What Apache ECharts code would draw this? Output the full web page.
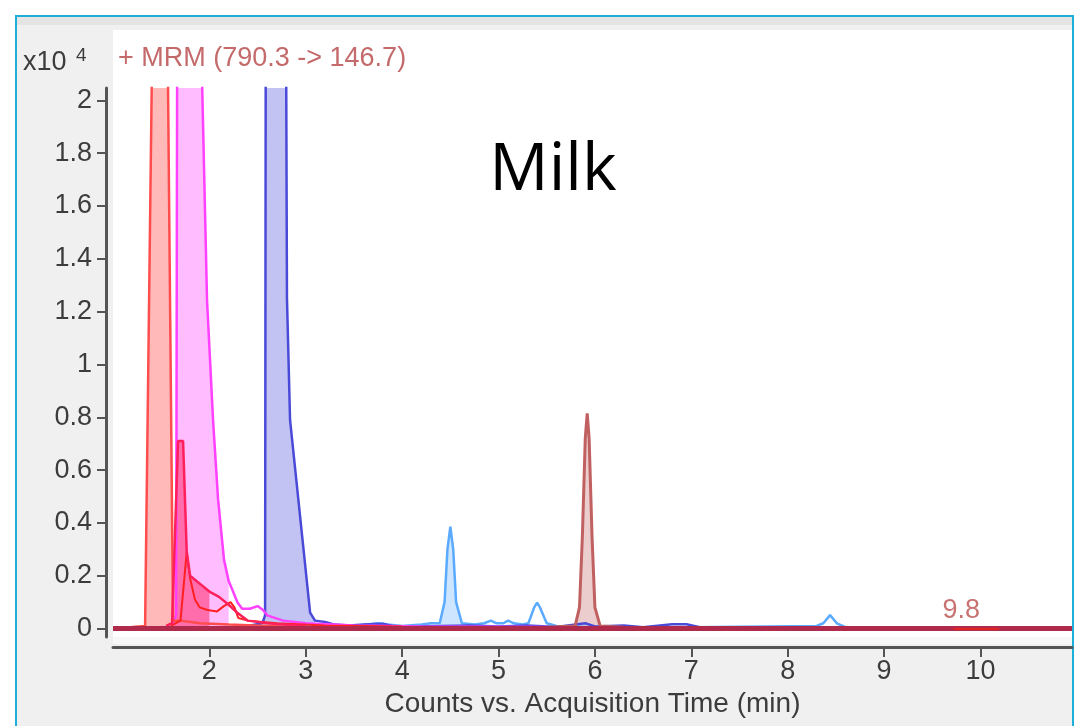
<!DOCTYPE html>
<html>
<head>
<meta charset="utf-8">
<script src="https://cdn.jsdelivr.net/npm/echarts@6/dist/echarts.min.js"></script>
<style>
html, body { margin: 0; padding: 0; background: #fff; }
#chart { width: 1087px; height: 726px; }
</style>
</head>
<body>
<div id="chart"></div>
<script>
// tick labels
const xTicks = [2, 3, 4, 5, 6, 7, 8, 9, 10];
const yTicks = [0, 0.2, 0.4, 0.6, 0.8, 1, 1.2, 1.4, 1.6, 1.8, 2];

// traces (time in min, counts x10^4)
const salmonT = [1.0, 1.2, 1.333, 1.41, 1.43, 1.48, 1.54, 1.562, 1.623, 1.7, 1.9, 2.2, 2.6, 3.0];
const salmonV = [0.005, 0.006, 0.01, 2.3, 7, 9.5, 7, 2.4, 0.03, 0.03, 0.02, 0.015, 0.01, 0.005];
const salmonFill = [1.3, 1.65];

const crimsonT = [1.55, 1.613, 1.675, 1.727, 1.765, 1.8, 1.9, 2.0, 2.1, 2.2, 2.29, 2.4, 2.6, 3.0];
const crimsonV = [0.01, 0.02, 0.71, 0.71, 0.29, 0.2, 0.17, 0.14, 0.12, 0.09, 0.06, 0.03, 0.02, 0.01];
const crimsonFill = [1.6, 2.0];

const redT = [1.6, 1.7, 1.765, 1.8, 1.85, 1.9, 1.98, 2.08, 2.15, 2.22, 2.26, 2.3, 2.4, 2.7, 3.2, 4.0];
const redV = [0.01, 0.03, 0.29, 0.19, 0.11, 0.08, 0.07, 0.065, 0.085, 0.1, 0.08, 0.04, 0.03, 0.02, 0.012, 0.008];

const magentaT = [1.62, 1.655, 1.675, 1.75, 1.85, 1.88, 1.91, 1.976, 2.038, 2.09, 2.152, 2.2, 2.235, 2.29, 2.34, 2.42, 2.5, 2.557, 2.6, 2.765, 3.0, 3.5, 4.2, 5.5, 7.0];
const magentaV = [0.02, 0.05, 4.0, 7.5, 6.0, 5.0, 2.3, 1.24, 0.79, 0.49, 0.26, 0.18, 0.15, 0.1, 0.075, 0.075, 0.085, 0.07, 0.05, 0.03, 0.02, 0.012, 0.008, 0.006, 0.005];
const magentaFill = [1.6, 2.2];

const blueT = [2.4, 2.55, 2.578, 2.595, 2.68, 2.77, 2.805, 2.837, 3.045, 3.096, 3.2, 3.3, 3.45, 3.6, 3.8, 3.9, 4.1, 4.4, 4.7, 5.0, 5.3, 5.6, 5.9, 6.0, 6.3, 6.5, 6.8, 6.95, 7.1, 8.0, 10.95];
const blueV = [0.01, 0.02, 0.05, 5.5, 7.0, 5.0, 1.25, 0.79, 0.06, 0.03, 0.025, 0.015, 0.012, 0.015, 0.018, 0.01, 0.008, 0.01, 0.012, 0.008, 0.012, 0.006, 0.02, 0.008, 0.012, 0.005, 0.016, 0.016, 0.004, 0.003, 0.003];
const blueFill = [2.55, 3.1];

const skyT = [3.0, 3.5, 3.75, 3.85, 4.0, 4.2, 4.3, 4.39, 4.44, 4.47, 4.5, 4.53, 4.56, 4.62, 4.75, 4.85, 4.92, 4.98, 5.05, 5.1, 5.16, 5.25, 5.31, 5.37, 5.4, 5.43, 5.5, 5.6, 6.0, 7.0, 8.3, 8.37, 8.44, 8.51, 8.6, 10.95];
const skyV = [0.01, 0.01, 0.02, 0.015, 0.01, 0.015, 0.02, 0.02, 0.1, 0.3, 0.386, 0.3, 0.1, 0.02, 0.015, 0.02, 0.03, 0.02, 0.02, 0.03, 0.02, 0.015, 0.02, 0.08, 0.098, 0.08, 0.02, 0.01, 0.005, 0.005, 0.01, 0.02, 0.051, 0.02, 0.005, 0.003];
const skyFill = [4.38, 4.63];

const brownT = [5.5, 5.795, 5.84, 5.87, 5.9, 5.92, 5.94, 5.97, 6.0, 6.054, 6.3];
const brownV = [0.005, 0.01, 0.08, 0.35, 0.72, 0.815, 0.72, 0.35, 0.08, 0.01, 0.005];
const brownFill = [5.78, 6.06];

const baseT = [1.0, 3.0, 5.0, 7.0, 9.0, 9.8, 10.95];
const baseV = [0, 0, 0, 0, 0, 0, 0];
const peakT = [9.72, 9.8, 10.19];
const peakV = [-0.002, -0.002, -0.002];

const font = 'Liberation Sans, Arial, sans-serif';

function pairs(t, v) {
    return t.map((x, i) => [x, v[i]]);
}

function fillSeries(t, v, range, color) {
    return {
        type: 'line',
        data: pairs(t, v).filter(p => p[0] >= range[0] && p[0] <= range[1]),
        showSymbol: false,
        lineStyle: { width: 0 },
        areaStyle: { color: color, opacity: 1 },
        z: 1,
    };
}

function lineSeries(t, v, color, width) {
    return {
        type: 'line',
        data: pairs(t, v),
        showSymbol: false,
        lineStyle: { color: color, width: width || 2 },
        z: 3,
    };
}

let myChart = echarts.init(document.getElementById('chart'));

option = {
    animation: false,
    backgroundColor: '#fff',
    grid: { left: 113, right: 15, top: 88, bottom: 89 },
    graphic: [
        { type: 'rect', z: -20, shape: { x: 16, y: 16, width: 1057, height: 730 },
          style: { fill: '#f0f0f0', stroke: '#1cb0d8', lineWidth: 2 } },
        { type: 'rect', z: -19, shape: { x: 17, y: 17, width: 1055, height: 8 },
          style: { fill: '#e4e4e4' } },
        { type: 'rect', z: -18, shape: { x: 113, y: 30, width: 959, height: 607 },
          style: { fill: '#fff' } },
        { type: 'rect', z: -18, shape: { x: 113, y: 637, width: 959, height: 7 },
          style: { fill: '#f8f8f8' } },
        { type: 'text', z: 10, x: 23, y: 63,
          style: { text: 'x10', font: '27px ' + font, fill: '#3c3c3c', verticalAlign: 'middle' } },
        { type: 'text', z: 10, x: 76, y: 56,
          style: { text: '4', font: '19px ' + font, fill: '#3c3c3c', verticalAlign: 'middle' } },
        { type: 'text', z: 10, x: 118, y: 59,
          style: { text: '+ MRM (790.3 -> 146.7)', font: '27px ' + font, fill: '#c46a6a', verticalAlign: 'middle' } },
        { type: 'text', z: 10, x: 553, y: 171,
          style: { text: 'Milk', font: '66px Open Sans, sans-serif', fill: '#000', align: 'center', verticalAlign: 'middle' } },
    ],
    xAxis: {
        type: 'value',
        min: 1,
        max: 10.95,
        offset: 10,
        name: 'Counts vs. Acquisition Time (min)',
        nameLocation: 'middle',
        nameGap: 43,
        nameTextStyle: { fontFamily: font, fontSize: 28, color: '#3c3c3c' },
        axisLine: { onZero: false, lineStyle: { color: '#555', width: 3 } },
        axisTick: { customValues: xTicks, length: 10, lineStyle: { color: '#555', width: 2 } },
        axisLabel: { customValues: xTicks, margin: 11, fontFamily: font, fontSize: 27, color: '#3c3c3c' },
        splitLine: { show: false },
    },
    yAxis: {
        type: 'value',
        min: -0.032,
        max: 2.047,
        offset: 7,
        axisLine: { show: true, onZero: false, lineStyle: { color: '#555', width: 3 } },
        axisTick: { show: true, customValues: yTicks, length: 9, lineStyle: { color: '#555', width: 2 } },
        axisLabel: { customValues: yTicks, margin: 14, fontFamily: font, fontSize: 27, color: '#3c3c3c' },
        splitLine: { show: false },
    },
    series: [
        fillSeries(salmonT, salmonV, salmonFill, 'rgba(255,100,100,0.45)'),
        fillSeries(magentaT, magentaV, magentaFill, 'rgba(255,64,255,0.35)'),
        fillSeries(crimsonT, crimsonV, crimsonFill, 'rgba(255,30,90,0.5)'),
        fillSeries(blueT, blueV, blueFill, 'rgba(70,70,220,0.33)'),
        fillSeries(skyT, skyV, skyFill, 'rgba(90,170,255,0.3)'),
        fillSeries(brownT, brownV, brownFill, 'rgba(190,90,90,0.3)'),
        lineSeries(skyT, skyV, '#5aaaff', 2.5),
        lineSeries(blueT, blueV, '#4a4ad8', 2.5),
        lineSeries(magentaT, magentaV, '#ff40ff', 2.5),
        lineSeries(salmonT, salmonV, '#ff4d4d', 2.5),
        lineSeries(redT, redV, '#ff2020', 2),
        lineSeries(crimsonT, crimsonV, '#ff1f5a', 2.5),
        lineSeries(brownT, brownV, '#c06060', 3),
        Object.assign(lineSeries(baseT, baseV, '#b02a4c', 5), {
            z: 4,
            markPoint: {
                symbol: 'circle',
                symbolSize: 1,
                itemStyle: { color: 'rgba(0,0,0,0)' },
                label: { show: true, position: 'top', distance: 4, formatter: '9.8',
                         fontFamily: font, fontSize: 27, color: '#c87272' },
                data: [{ coord: [9.8, 0] }],
            },
        }),
        Object.assign(lineSeries(peakT, peakV, '#e02424', 2), { z: 5 }),
    ],
};
myChart.setOption(option);
window.addEventListener('resize', function () {
    myChart.resize();
});
</script>
</body>
</html>
